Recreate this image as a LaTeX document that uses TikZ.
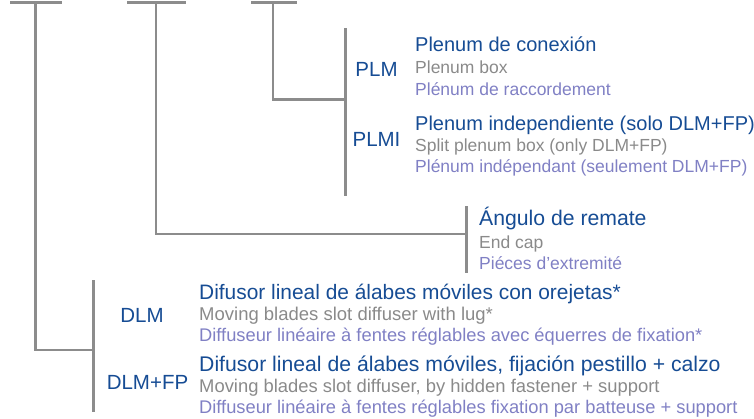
\documentclass[tikz,border=0pt]{standalone}
\usepackage{fontspec}
\setmainfont{Liberation Sans}

\definecolor{esblue}{RGB}{22,76,148}
\definecolor{engrey}{RGB}{138,138,138}
\definecolor{frlilac}{RGB}{128,128,196}
\definecolor{linegrey}{RGB}{140,140,140}

\tikzset{
  es/.style={anchor=base west,inner sep=0pt,text=esblue,font=\fontsize{#1}{24}\selectfont},
  es/.default=20,
  en/.style={anchor=base west,inner sep=0pt,text=engrey,font=\fontsize{#1}{21}\selectfont},
  en/.default=17.5,
  fr/.style={en=#1,text=frlilac},
  fr/.default=17.5,
  code/.style={anchor=base,inner sep=0pt,text=esblue,font=\fontsize{20.5}{24}\selectfont},
  bar/.style={draw=linegrey,line width=2.8pt}
}

\begin{document}
\begin{tikzpicture}[x=1pt,y=-1pt]

        \useasboundingbox (0,0) rectangle (754,418);

        % bracket points
        \coordinate (a1)  at (10,2.5);
        \coordinate (a2)  at (62,2.5);
        \coordinate (a)   at (35.5,2.5);
        \coordinate (ak)  at (35.5,350);
        \coordinate (ab)  at (93.5,350);
        \coordinate (abt) at (93.5,280);
        \coordinate (abb) at (93.5,412);

        \coordinate (b1)  at (127,2.5);
        \coordinate (b2)  at (186,2.5);
        \coordinate (b)   at (156,2.5);
        \coordinate (bk)  at (156,234);
        \coordinate (bb)  at (466.5,234);
        \coordinate (bbt) at (466.5,206);
        \coordinate (bbb) at (466.5,273);

        \coordinate (c1)  at (251,2.5);
        \coordinate (c2)  at (297,2.5);
        \coordinate (c)   at (273,2.5);
        \coordinate (ck)  at (273,99.5);
        \coordinate (cb)  at (345.5,99.5);
        \coordinate (cbt) at (345.5,28);
        \coordinate (cbb) at (345.5,196);

        \draw[bar] (a1) -- (a2);
        \draw[bar] (a) -- (ak) -- (ab);
        \draw[bar] (abt) -- (abb);
        \draw[bar] (b1) -- (b2);
        \draw[bar] (b) -- (bk) -- (bb);
        \draw[bar] (bbt) -- (bbb);
        \draw[bar] (c1) -- (c2);
        \draw[bar] (c) -- (ck) -- (cb);
        \draw[bar] (cbt) -- (cbb);

        % plenum
        \node[code] (plm)     at (376.5,76) {PLM};
        \node[es]   (plm-es)  at (415,51)   {Plenum de conexión};
        \node[en]   (plm-en)  at (415,73)   {Plenum box};
        \node[fr]   (plm-fr)  at (415,95)   {Plénum de raccordement};

        \node[code] (plmi)    at (376.5,146) {PLMI};
        \node[es]   (plmi-es) at (415,130)   {Plenum independiente (solo DLM+FP)};
        \node[en]   (plmi-en) at (415,151)   {Split plenum box (only DLM+FP)};
        \node[fr]   (plmi-fr) at (415,172)   {Plénum indépendant (seulement DLM+FP)};

        % end cap
        \node[es=21.2] (cap-es)  at (479,225) {Ángulo de remate};
        \node[en]      (cap-en)  at (479,248) {End cap};
        \node[fr]      (cap-fr)  at (479,269) {Piéces d’extremité};

        % diffusers
        \node[code]    (dlm)     at (142,322) {DLM};
        \node[es=20.9] (dlm-es)  at (199,299) {Difusor lineal de álabes móviles con orejetas*};
        \node[en=18.5] (dlm-en)  at (199,320) {Moving blades slot diffuser with lug*};
        \node[fr=18.3] (dlm-fr)  at (199,341) {Diffuseur linéaire à fentes réglables avec équerres de fixation*};

        \node[code]    (dlmfp)    at (147.5,389) {DLM+FP};
        \node[es=21.2] (dlmfp-es) at (199,371) {Difusor lineal de álabes móviles, fijación pestillo + calzo};
        \node[en=18.4] (dlmfp-en) at (199,392) {Moving blades slot diffuser, by hidden fastener + support};
        \node[fr=18.3] (dlmfp-fr) at (199,413) {Diffuseur linéaire à fentes réglables fixation par batteuse + support};

      \end{tikzpicture}
\end{document}
